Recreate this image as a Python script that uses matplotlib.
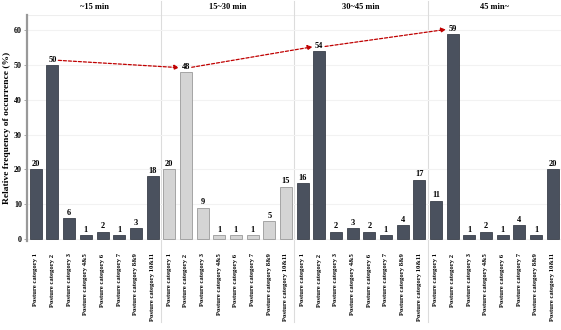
import matplotlib
matplotlib.use("Agg")
import matplotlib.pyplot as plt
import numpy as np

# Data
categories = ["Posture category 1", "Posture category 2", "Posture category 3",
              "Posture category 4&5", "Posture category 6", "Posture category 7",
              "Posture category 8&9", "Posture category 10&11"]
groups = ["~15 min", "15~30 min", "30~45 min", "45 min~"]
values_15 = [20, 50, 6, 1, 2, 1, 3, 18]
values_15_30 = [20, 48, 9, 1, 1, 1, 5, 15]
values_30_45 = [16, 54, 2, 3, 2, 1, 4, 17]
values_45 = [11, 59, 1, 2, 1, 4, 1, 20]
group_colors = ["#4a515e", "#d4d4d4", "#4a515e", "#4a515e"]
edge_colors = ["#3a404a", "#9a9a9a", "#3a404a", "#3a404a"]

plt.rcParams["font.family"] = ["Liberation Serif", "DejaVu Serif"]
plt.rcParams["font.weight"] = "bold"

fig = plt.figure(figsize=(5.61, 3.30), dpi=100)
ax = fig.add_axes([0.049, 0.27, 0.951, 0.685])

all_values = [values_15, values_15_30, values_30_45, values_45]
n = len(categories)
for g, vals in enumerate(all_values):
    x = np.arange(n) + g * n
    ax.bar(x, vals, width=0.72, color=group_colors[g], edgecolor=edge_colors[g],
           linewidth=0.6, zorder=3)
    for xi, v in zip(x, vals):
        ax.text(xi, v + 0.4, str(v), ha="center", va="bottom", fontsize=6,
                fontweight="bold", zorder=4)
    ax.text(g * n + (n - 1) / 2, 1.015, groups[g], transform=ax.get_xaxis_transform(),
            ha="center", va="bottom", fontsize=6, fontweight="bold")

# group separators
for g in range(1, len(groups)):
    ax.axvline(g * n - 0.5, ymin=-0.36, ymax=1.06, color="#dcdcdc", lw=0.8,
               clip_on=False, zorder=1)

# red dashed arrows between category 2 bars
peak = [vals[1] for vals in all_values]
for g in range(len(groups) - 1):
    x0 = g * n + 1 + 0.35
    x1 = (g + 1) * n + 1 - 0.4
    ax.annotate("", xy=(x1, peak[g + 1] + 1.3), xytext=(x0, peak[g] + 1.4),
                arrowprops=dict(arrowstyle="-|>", color="#c00000", lw=0.9,
                                linestyle=(0, (2.5, 1.5)), mutation_scale=7,
                                shrinkA=0, shrinkB=0), zorder=5)

ax.set_xlim(-0.5, 4 * n - 0.5)
ax.set_ylim(-0.6, 64.5)
ax.set_yticks(range(0, 61, 10))
ax.set_xticks(np.arange(4 * n))
ax.set_xticklabels(categories * 4, rotation=90, fontsize=4.8, fontweight="bold")
ax.tick_params(axis="x", length=0, pad=9)
ax.tick_params(axis="y", labelsize=5.8, length=2.5, width=0.6, color="#999999", pad=1.5)
ax.set_ylabel("Relative frequency of occurrence (%)", fontsize=6.8, fontweight="bold",
              labelpad=2)
ax.grid(axis="y", color="#f2f2f2", lw=0.8, zorder=0)
for s in ["top", "right", "bottom"]:
    ax.spines[s].set_visible(False)
ax.spines["left"].set_color("#999999")
ax.spines["left"].set_linewidth(1.6)
ax.axhline(64.5, color="#eeeeee", lw=0.8, zorder=0)

fig.savefig("out.png", dpi=100)
